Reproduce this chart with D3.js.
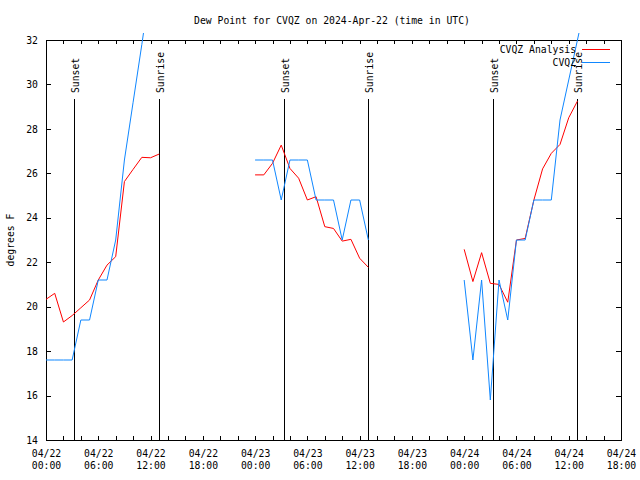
<!DOCTYPE html>
<html>
<head>
<meta charset="utf-8">
<script src="https://cdn.jsdelivr.net/npm/d3@7"></script>
<style>
  html, body { margin: 0; padding: 0; background: #fff; }
  svg { display: block; }
  text { font-family: "DejaVu Sans Mono", "Liberation Mono", monospace; font-size: 9.75px; fill: #000; }
</style>
</head>
<body>
<svg id="chart" width="640" height="480"></svg>
<script>
// ---- data (hours after 2024-04-22 00:00 UTC) ----
const seg1Hours = [0,1,2,3,4,5,6,7,8,9,10,11,12,13];
const seg2Hours = [24,25,26,27,28,29,30,31,32,33,34,35,36,37];
const seg3Hours = [48,49,50,51,52,53,54,55,56,57,58,59,60,61];

const analysis1 = [20.33,20.6,19.31,19.6,19.95,20.3,21.2,21.87,22.25,25.63,26.18,26.72,26.7,26.87];
const analysis2 = [25.93,25.93,26.45,27.27,26.22,25.78,24.8,24.95,23.6,23.52,22.95,23.03,22.18,21.77];
const analysis3 = [22.58,21.13,22.43,21.05,21.0,20.2,23.0,23.07,24.8,26.2,26.9,27.3,28.5,29.25];

const obs1 = [17.6,17.6,17.6,17.6,19.4,19.4,21.2,21.2,23.0,26.6,29.2,31.8,34.5,35.6];
const obs2 = [26.6,26.6,26.6,24.8,26.6,26.6,26.6,24.8,24.8,24.8,23.0,24.8,24.8,23.0];
const obs3Hours = [48,49,50,51,52,53,54,55,56,57,58,59,60,61,62];
const obs3 = [21.2,17.6,21.2,15.8,21.2,19.4,23.0,23.0,24.8,24.8,24.8,28.4,30.2,32.0,33.8];

const sunsetHours = [3.25, 27.33, 51.35];
const sunriseHours = [13.0, 37.0, 61.0];

const yTicks = [14,16,18,20,22,24,26,28,30,32];
const titleText = "Dew Point for CVQZ on 2024-Apr-22 (time in UTC)";
const seriesNames = ["CVQZ Analysis", "CVQZ"];
const seriesColors = ["#ff0000", "#0f87ff"];

// ---- build ----
const t0 = Date.UTC(2024, 3, 22, 0, 0);
const toDate = h => new Date(t0 + h * 3600000);

const svg = d3.select("#chart");
const L = 46, R = 621, T = 40, B = 440;

const x = d3.scaleUtc().domain([toDate(0), toDate(66)]).range([L, R]);
const y = d3.scaleLinear().domain([14, 32]).range([B, T]);

const labelTicks = d3.range(0, 67, 6).map(toDate);
const minorTicks = d3.range(0, 67, 2).map(toDate);

// minor ticks bottom/top
svg.append("g").attr("transform", `translate(0,${B})`)
  .call(d3.axisBottom(x).tickValues(minorTicks).tickFormat("").tickSize(-4).tickSizeOuter(0))
  .call(g => g.select(".domain").remove());
svg.append("g").attr("transform", `translate(0,${T})`)
  .call(d3.axisTop(x).tickValues(minorTicks).tickFormat("").tickSize(-4).tickSizeOuter(0))
  .call(g => g.select(".domain").remove());

// labelled bottom axis
const fmtDate = d3.utcFormat("%m/%d"), fmtTime = d3.utcFormat("%H:%M");
const xAxis = svg.append("g").attr("transform", `translate(0,${B})`)
  .call(d3.axisBottom(x).tickValues(labelTicks).tickSize(0).tickSizeOuter(0).tickFormat(""));
xAxis.select(".domain").remove();
xAxis.selectAll(".tick").each(function(d) {
  const t = d3.select(this).select("text");
  t.attr("y", 0).attr("dy", null).attr("fill", "#000");
  t.append("tspan").attr("x", 0).attr("y", 17).text(fmtDate(d));
  t.append("tspan").attr("x", 0).attr("y", 29).text(fmtTime(d));
});

// y axes
const yAxis = svg.append("g").attr("transform", `translate(${L},0)`)
  .call(d3.axisLeft(y).tickValues(yTicks).tickSize(-5).tickPadding(8).tickSizeOuter(0));
yAxis.select(".domain").remove();
yAxis.selectAll("text").attr("fill", "#000");
svg.append("g").attr("transform", `translate(${R},0)`)
  .call(d3.axisRight(y).tickValues(yTicks).tickSize(-5).tickFormat("").tickSizeOuter(0))
  .call(g => g.select(".domain").remove());

svg.selectAll(".tick line").attr("stroke", "#000").attr("shape-rendering", "crispEdges");

// frame
svg.append("rect").attr("x", L).attr("y", T).attr("width", R - L).attr("height", B - T)
  .attr("fill", "none").attr("stroke", "#000").attr("shape-rendering", "crispEdges");

// sunset / sunrise lines
const sunEvents = sunsetHours.map(h => ({h, name: "Sunset"}))
  .concat(sunriseHours.map(h => ({h, name: "Sunrise"})));
const sg = svg.append("g");
sunEvents.forEach(e => {
  const xp = Math.round(x(toDate(e.h))) + 0.5;
  sg.append("line").attr("x1", xp).attr("x2", xp).attr("y1", 99).attr("y2", B)
    .attr("stroke", "#000").attr("stroke-width", 1);
  sg.append("text").attr("transform", `translate(${xp + 4},93) rotate(-90)`)
    .attr("text-anchor", "start").text(e.name);
});

// clip
svg.append("clipPath").attr("id", "clip").append("rect")
  .attr("x", L).attr("y", 33).attr("width", R - L).attr("height", B - 33);

const line = d3.line().x(d => x(toDate(d[0]))).y(d => y(d[1]));
const plotG = svg.append("g").attr("clip-path", "url(#clip)");
const zip = (hs, vs) => hs.map((h, i) => [h, vs[i]]);

[[seg1Hours, analysis1], [seg2Hours, analysis2], [seg3Hours, analysis3]].forEach(([hs, vs]) => {
  plotG.append("path").datum(zip(hs, vs)).attr("d", line)
    .attr("fill", "none").attr("stroke", seriesColors[0]).attr("stroke-width", 1);
});
[[seg1Hours, obs1], [seg2Hours, obs2], [obs3Hours, obs3]].forEach(([hs, vs]) => {
  plotG.append("path").datum(zip(hs, vs)).attr("d", line)
    .attr("fill", "none").attr("stroke", seriesColors[1]).attr("stroke-width", 1);
});

// legend
seriesNames.forEach((n, i) => {
  const ly = 49 + i * 13;
  svg.append("text").attr("x", 576).attr("y", ly + 3.5).attr("text-anchor", "end").text(n);
  svg.append("line").attr("x1", 582).attr("x2", 610).attr("y1", ly + 0.5).attr("y2", ly + 0.5)
    .attr("stroke", seriesColors[i]).attr("stroke-width", 1);
});

// title and y label
svg.append("text").attr("x", 332).attr("y", 24).attr("text-anchor", "middle").text(titleText);
svg.append("text").attr("transform", "translate(14,240) rotate(-90)")
  .attr("text-anchor", "middle").text("degrees F");
</script>
</body>
</html>
